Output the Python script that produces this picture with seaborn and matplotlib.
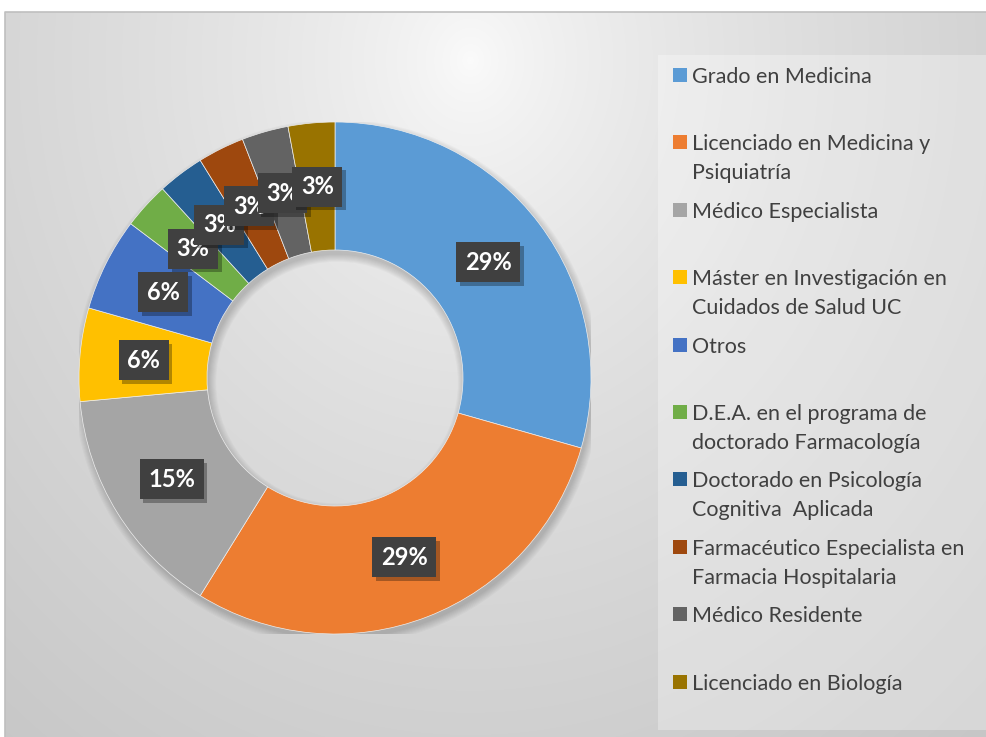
import numpy as np
import matplotlib
matplotlib.use("Agg")
import matplotlib.pyplot as plt
import matplotlib.patheffects as pe
from matplotlib.patches import Rectangle, Wedge
import seaborn as sns

# ---------------- data ----------------
categories = [
    "Grado en Medicina",
    "Licenciado en Medicina y\nPsiquiatría",
    "Médico Especialista",
    "Máster en Investigación en\nCuidados de Salud UC",
    "Otros",
    "D.E.A. en el programa de\ndoctorado Farmacología",
    "Doctorado en Psicología\nCognitiva  Aplicada",
    "Farmacéutico Especialista en\nFarmacia Hospitalaria",
    "Médico Residente",
    "Licenciado en Biología",
]
counts = [10, 10, 5, 2, 2, 1, 1, 1, 1, 1]
colors = ["#5B9BD5", "#ED7D31", "#A5A5A5", "#FFC000", "#4472C4",
          "#70AD47", "#255E91", "#9E480E", "#636363", "#997300"]

sns.set_theme(style="white")
palette = sns.color_palette(colors)

W, H = 987, 737
fig = plt.figure(figsize=(W / 100, H / 100), dpi=100)
fig.patch.set_facecolor("white")

# ---------------- background (gradient chart area) ----------------
bg = fig.add_axes([0, 0, 1, 1], zorder=-5)
bg.set_xlim(0, W)
bg.set_ylim(H, 0)
bg.axis("off")
xx, yy = np.meshgrid(np.arange(5, W), np.arange(12, H))
d = np.sqrt(((xx - 470) / 560.0) ** 2 + ((yy - 60) / 650.0) ** 2)
val = np.clip(0.985 - 0.165 * d ** 0.7, 0.0, 1.0)
img = np.dstack([val, val, val])
bg.imshow(img, extent=[5, W, H, 12], aspect="auto", interpolation="bilinear")
bg.plot([5, 5, W], [H, 12, 12], color="#bfbfbf", lw=1.2)
# legend panel
bg.add_patch(Rectangle((658, 55), W - 658, 675, facecolor="white", alpha=0.3,
                       edgecolor="none"))

# ---------------- donut ----------------
R, cx, cy = 256, 335, 378
ax = fig.add_axes([(cx - R) / W, 1 - (cy + R) / H, 2 * R / W, 2 * R / H])
ax.set_xlim(-1, 1)
ax.set_ylim(-1, 1)
ax.axis("off")
ax.patch.set_alpha(0)

# soft shadow behind the ring
for k in range(8):
    dd = 0.004 * k
    ax.add_patch(Wedge((0.008, -0.018), 1.0 + dd, 0, 360, width=0.5 + 2 * dd,
                       facecolor="black", alpha=0.025, edgecolor="none", zorder=0))

wedges, texts, autotexts = ax.pie(
    counts, colors=palette, startangle=90, counterclock=False, radius=1,
    wedgeprops=dict(width=0.5, edgecolor="#eeeeee", linewidth=0.5),
    autopct="%.0f%%", pctdistance=0.75,
    textprops=dict(color="white", fontweight="bold", fontsize=17, family="Lato"),
)
ax.set_xlim(-1, 1)
ax.set_ylim(-1, 1)

for i, at in enumerate(autotexts):
    at.set_zorder(5 + i)
    at.set_bbox(dict(boxstyle="square,pad=0.36", facecolor="#404040",
                     edgecolor="none", linewidth=0))
    at.get_bbox_patch().set_path_effects(
        [pe.SimplePatchShadow(offset=(2.5, -2.5), shadow_rgbFace="black", alpha=0.3),
         pe.Normal()])

# ---------------- legend ----------------
for i, lab in enumerate(categories):
    y0 = 75 + 67.4 * i
    fig.patches.append(Rectangle((673 / W, 1 - (y0 + 7) / H), 14 / W, 14 / H,
                                 transform=fig.transFigure, facecolor=palette[i],
                                 edgecolor="none"))
    for j, line in enumerate(lab.split("\n")):
        fig.text(692 / W, 1 - (y0 + 29 * j) / H, line, ha="left",
                 va="center_baseline", fontsize=15.5, color="#404040", family="Lato")

fig.savefig("out.png", dpi=100)
